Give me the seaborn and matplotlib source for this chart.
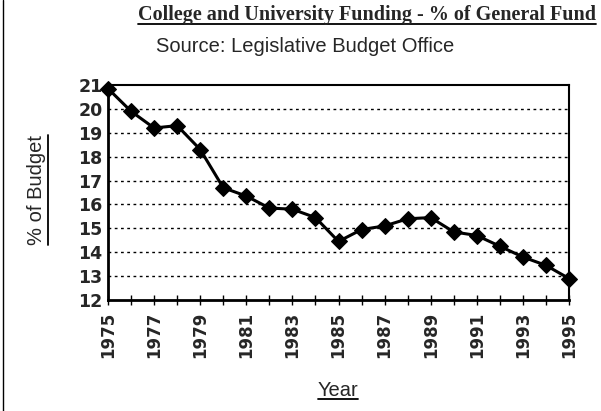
import matplotlib
matplotlib.use("Agg")
import matplotlib.pyplot as plt
import seaborn as sns
import pandas as pd
from matplotlib.lines import Line2D

years = list(range(1975, 1996))
pct_budget = [20.85, 19.9, 19.2, 19.3, 18.3, 16.7, 16.35, 15.85, 15.8, 15.45,
              14.45, 14.95, 15.1, 15.4, 15.45, 14.85, 14.7, 14.25, 13.8, 13.45, 12.9]
y_ticks = list(range(12, 22))
x_label_years = list(range(1975, 1996, 2))

title = "College and University Funding - % of General Fund"
subtitle = "Source: Legislative Budget Office"
ylabel = "% of Budget"
xlabel = "Year"

sns.set_theme(style="white")
plt.rcParams['font.family'] = ['Liberation Sans', 'DejaVu Sans']

df = pd.DataFrame({"Year": years, "Pct": pct_budget})

fig = plt.figure(figsize=(6.01, 4.11), dpi=100)
ax = fig.add_axes([108/601, 1-300/411, (569-108)/601, (300-85)/411])

sns.lineplot(data=df, x="Year", y="Pct", ax=ax, color="black", linewidth=2.2,
             marker="D", markersize=8.5, markeredgecolor="black", markerfacecolor="black")

ax.set_xlim(1975, 1995)
ax.set_ylim(12, 21)
ax.set_yticks(y_ticks)
ax.set_yticklabels([str(v) for v in y_ticks], fontsize=12.5, fontweight="bold",
                   family=["DejaVu Sans"])
ax.set_xticks(x_label_years)
ax.set_xticklabels([str(v) for v in x_label_years], rotation=90, fontsize=12,
                   fontweight="bold", family=["DejaVu Sans"])
ax.set_xticks(years, minor=True)
ax.tick_params(axis="x", which="both", direction="inout", length=7, width=1,
               color="black", bottom=True, pad=5)
ax.tick_params(axis="y", which="both", length=0, pad=4)
for v in y_ticks[1:-1]:
    ax.axhline(v, color="black", linestyle=(0, (2, 2.5)), linewidth=1, zorder=0)
ax.set_xlabel("")
ax.set_ylabel("")
for s in ["left", "bottom"]:
    ax.spines[s].set_linewidth(2)
    ax.spines[s].set_color("black")
for s in ["top", "right"]:
    ax.spines[s].set_linewidth(1.5)
    ax.spines[s].set_color("black")
for ln in ax.lines:
    ln.set_clip_on(False)

t1 = fig.text(367/601, 1-15/411, title, ha="center", va="center", fontsize=14.5,
              fontweight="bold", family=["Liberation Serif", "DejaVu Serif"])
t2 = fig.text(305/601, 1-47/411, subtitle, ha="center", va="center", fontsize=14.5)
t3 = fig.text(37/601, 1-190/411, ylabel, ha="center", va="center", rotation=90, fontsize=14.5)
t4 = fig.text(338/601, 1-390/411, xlabel, ha="center", va="center", fontsize=14.5)

# left border line of the page
fig.add_artist(Line2D([3/601, 3/601], [0, 1], transform=fig.transFigure, color="black", linewidth=1))

fig.canvas.draw()
r = fig.canvas.get_renderer()
inv = fig.transFigure.inverted()
for t, vertical in [(t1, False), (t3, True), (t4, False)]:
    bb = t.get_window_extent(r)
    (x0, y0), (x1, y1) = inv.transform([(bb.x0, bb.y0), (bb.x1, bb.y1)])
    if vertical:
        xx = x1 + 1/601
        fig.add_artist(Line2D([xx, xx], [y0, y1], transform=fig.transFigure, color="black", linewidth=1.3))
    else:
        yy = y0 + 1/411
        fig.add_artist(Line2D([x0, x1], [yy, yy], transform=fig.transFigure, color="black", linewidth=1.3))

fig.savefig("out.png", dpi=100)
